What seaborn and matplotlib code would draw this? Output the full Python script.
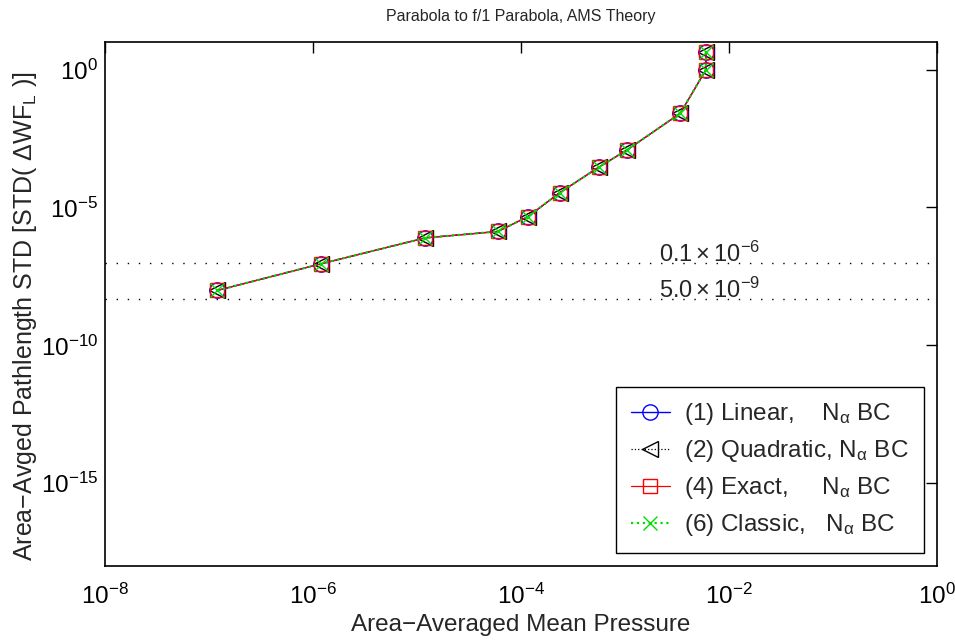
import matplotlib
matplotlib.use("Agg")
import matplotlib.pyplot as plt
import numpy as np
import pandas as pd
import seaborn as sns
from matplotlib.ticker import NullLocator

# ---- data ----
pressure = [1.2e-7, 1.2e-6, 1.2e-5, 6.0e-5, 1.17e-4, 2.35e-4, 5.6e-4, 1.05e-3, 3.4e-3, 6.0e-3, 6.0e-3]
std_linear    = [9.8e-9, 9.1e-8, 7.9e-7, 1.35e-6, 4.7e-6, 3.4e-5, 2.9e-4, 1.23e-3, 2.6e-2, 0.98, 4.5]
std_quadratic = [9.8e-9, 9.1e-8, 7.9e-7, 1.35e-6, 4.7e-6, 3.4e-5, 2.9e-4, 1.23e-3, 2.6e-2, 0.98, 4.5]
std_exact     = [9.8e-9, 9.1e-8, 7.9e-7, 1.35e-6, 4.7e-6, 3.4e-5, 2.9e-4, 1.23e-3, 2.6e-2, 0.98, 4.5]
std_classic   = [9.8e-9, 9.1e-8, 7.9e-7, 1.35e-6, 4.7e-6, 3.4e-5, 2.9e-4, 1.23e-3, 2.6e-2, 0.98, 4.5]

series_labels = [
    r"(1) Linear,    $\mathregular{N_\alpha}$ BC",
    r"(2) Quadratic, $\mathregular{N_\alpha}$ BC",
    r"(4) Exact,     $\mathregular{N_\alpha}$ BC",
    r"(6) Classic,   $\mathregular{N_\alpha}$ BC",
]
ref_levels = [1e-7, 5e-9]
ref_texts = [r"$\mathregular{0.1\times10^{-6}}$", r"$\mathregular{5.0\times10^{-9}}$"]

x_ticks = [1e-8, 1e-6, 1e-4, 1e-2, 1e0]
x_ticklabels = [r"$\mathregular{10^{-8}}$", r"$\mathregular{10^{-6}}$",
                r"$\mathregular{10^{-4}}$", r"$\mathregular{10^{-2}}$",
                r"$\mathregular{10^{0}}$"]
y_ticks = [1e-15, 1e-10, 1e-5, 1e0]
y_ticklabels = [r"$\mathregular{10^{-15}}$", r"$\mathregular{10^{-10}}$",
                r"$\mathregular{10^{-5}}$", r"$\mathregular{10^{0}}$"]

title = "Parabola to f/1 Parabola, AMS Theory"
xlabel = "Area\u2212Averaged Mean Pressure"
ylabel = "Area\u2212Avged Pathlength STD [STD( $\\mathregular{\\Delta WF_L}$ )]"

# ---- style ----
sns.set_style("white")
plt.rcParams["font.family"] = ["Liberation Sans", "DejaVu Sans"]
plt.rcParams["mathtext.fontset"] = "custom"
plt.rcParams["mathtext.rm"] = "Liberation Sans"
plt.rcParams["mathtext.it"] = "Liberation Sans:italic"
plt.rcParams["mathtext.bf"] = "Liberation Sans:bold"
plt.rcParams["axes.unicode_minus"] = True

fig = plt.figure(figsize=(9.55, 6.43), dpi=100)
ax = fig.add_axes([105 / 955, 1 - 566 / 643, (937 - 105) / 955, (566 - 42) / 643])

styles = [
    dict(color="#0000ff", marker="o", linestyle="-", markersize=11, lw=1.0, z=2.0),
    dict(color="#000000", marker="<", linestyle=":", markersize=11, lw=0.9, z=1.5),
    dict(color="#ff0000", marker="s", linestyle="-", markersize=10, lw=0.9, z=2.1),
    dict(color="#00dd00", marker="x", linestyle=":", markersize=10, lw=1.6, z=2.2),
]
all_y = [std_linear, std_quadratic, std_exact, std_classic]

for yv, lab, st in zip(all_y, series_labels, styles):
    df = pd.DataFrame({"p": pressure, "s": yv})
    sns.lineplot(data=df, x="p", y="s", ax=ax, sort=False, estimator=None,
                 color=st["color"], marker=st["marker"], linestyle=st["linestyle"],
                 markersize=st["markersize"], markerfacecolor="none",
                 markeredgecolor=st["color"], markeredgewidth=1.0,
                 linewidth=st["lw"], zorder=st["z"], label=lab)

for lvl, txt in zip(ref_levels, ref_texts):
    ax.axhline(lvl, color="black", linestyle=(0, (1, 7)), linewidth=1.0, zorder=1)
    ax.text(2.1e-3, lvl * 1.03, txt, fontsize=17, ha="left", va="baseline")

ax.set_xscale("log")
ax.set_yscale("log")
ax.set_xlim(1e-8, 1e0)
ax.set_ylim(1e-18, 1e1)
ax.set_xticks(x_ticks)
ax.set_xticklabels(x_ticklabels)
ax.set_yticks(y_ticks)
ax.set_yticklabels(y_ticklabels)
ax.xaxis.set_minor_locator(NullLocator())
ax.yaxis.set_minor_locator(NullLocator())
ax.tick_params(axis="both", which="major", direction="in", length=8, width=1,
               top=True, right=True, labelsize=17.5, colors="black")
ax.tick_params(axis="x", pad=12.5)
ax.tick_params(axis="y", pad=5)
for sp in ax.spines.values():
    sp.set_visible(True)
    sp.set_color("black")
    sp.set_linewidth(1.2)

ax.set_title(title, fontsize=11.5, pad=15)
ax.set_xlabel(xlabel, fontsize=17.5, labelpad=4)
ax.set_ylabel(ylabel, fontsize=18)
ax.yaxis.set_label_coords(-0.079, 0.477)

leg = ax.legend(loc="lower right", fontsize=17.5, frameon=True, fancybox=False,
                edgecolor="black", framealpha=1, handlelength=1.6,
                handletextpad=0.6, labelspacing=0.45, borderpad=0.6,
                borderaxespad=0.55)
leg.get_frame().set_linewidth(1.0)

fig.savefig("out.png", dpi=100)
